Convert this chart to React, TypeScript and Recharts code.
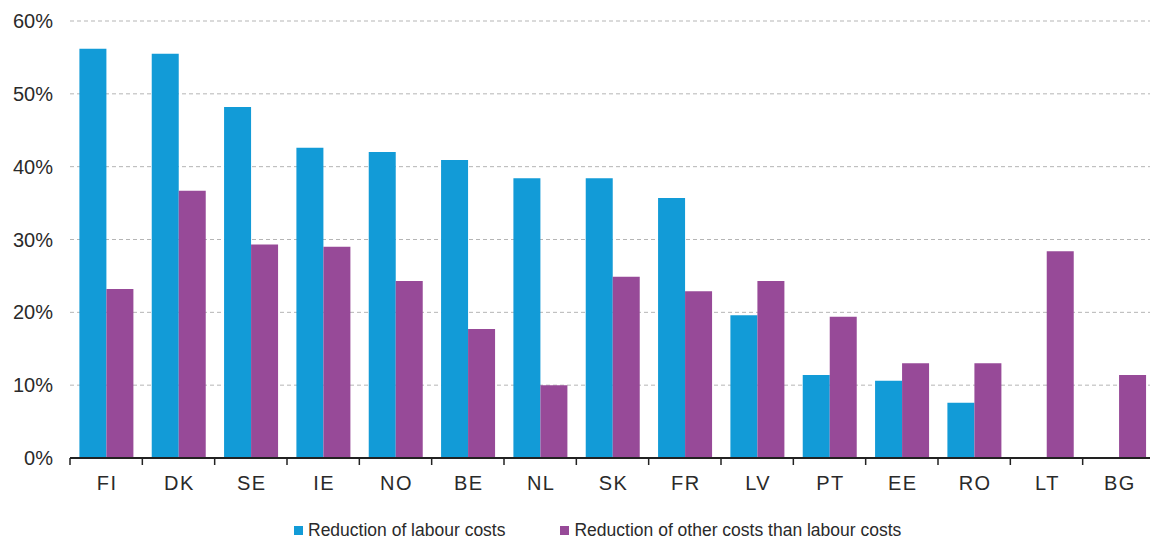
import { Bar, BarChart, CartesianGrid, Legend, XAxis, YAxis } from 'recharts';

const COUNTRIES = ['FI', 'DK', 'SE', 'IE', 'NO', 'BE', 'NL', 'SK', 'FR', 'LV', 'PT', 'EE', 'RO', 'LT', 'BG'];
const LABOUR = [56.2, 55.5, 48.2, 42.6, 42.0, 40.9, 38.4, 38.4, 35.7, 19.6, 11.4, 10.6, 7.6, 0, 0];
const OTHER = [23.2, 36.7, 29.3, 29.0, 24.3, 17.7, 10.0, 24.9, 22.9, 24.3, 19.4, 13.0, 13.0, 28.4, 11.4];
const Y_TICKS = [0, 10, 20, 30, 40, 50, 60];

const SERIES_NAMES = ['Reduction of labour costs', 'Reduction of other costs than labour costs'];
const BLUE = '#129BD7';
const PURPLE = '#974A98';
const FONT = "'Liberation Sans', Arial, sans-serif";

const data = COUNTRIES.map((c, i) => ({ country: c, labour: LABOUR[i], other: OTHER[i] }));

const CHART_W = 1160;
const PLOT_LEFT = 70;
const MARGIN_RIGHT = 5;
const BAND = (CHART_W - PLOT_LEFT - MARGIN_RIGHT) / COUNTRIES.length;

function CountryTick(props: any) {
  const { x, y, payload, index } = props;
  const left = x - BAND / 2;
  return (
    <g>
      <line x1={left} y1={y - 8} x2={left} y2={y - 1} stroke="#222" strokeWidth={1.5} />
      {index === COUNTRIES.length - 1 && (
        <line x1={left + BAND} y1={y - 8} x2={left + BAND} y2={y - 1} stroke="#222" strokeWidth={1.5} />
      )}
      <text
        x={x + 1}
        y={y + 24}
        textAnchor="middle"
        fill="#2a2a2a"
        fontSize={20}
        letterSpacing={1.5}
        fontFamily={FONT}
      >
        {payload.value}
      </text>
    </g>
  );
}

function LegendContent() {
  const colors = [BLUE, PURPLE];
  return (
    <div style={{ display: 'flex', paddingLeft: 294, paddingTop: 20, gap: 55 }}>
      {SERIES_NAMES.map((name, i) => (
        <div key={name} style={{ display: 'flex', alignItems: 'center' }}>
          <span style={{ width: 9, height: 9, background: colors[i], display: 'inline-block', marginRight: 5 }} />
          <span style={{ fontSize: 17.5, color: '#2a2a2a', fontFamily: FONT }}>{name}</span>
        </div>
      ))}
    </div>
  );
}

export default function App() {
  return (
    <div style={{ position: 'absolute', left: 0, top: 0, width: 1150, height: 542, overflow: 'hidden', background: '#fff' }}>
      <BarChart
        width={CHART_W}
        height={542}
        data={data}
        margin={{ top: 21, right: MARGIN_RIGHT, bottom: 0, left: 0 }}
        barCategoryGap="13%"
        barGap={0}
      >
        <CartesianGrid vertical={false} stroke="#b5b5b5" strokeDasharray="4 3" />
        <XAxis
          dataKey="country"
          height={42}
          axisLine={{ stroke: '#222', strokeWidth: 2 }}
          tickLine={false}
          tick={<CountryTick />}
          interval={0}
        />
        <YAxis
          width={PLOT_LEFT}
          domain={[0, 60]}
          ticks={Y_TICKS}
          tickFormatter={(v) => `${v}%`}
          axisLine={false}
          tickLine={false}
          tickMargin={11}
          tick={{ fill: '#2a2a2a', fontSize: 20, fontFamily: FONT }}
        />
        <Legend verticalAlign="bottom" height={42} content={<LegendContent />} />
        <Bar dataKey="labour" name={SERIES_NAMES[0]} fill={BLUE} isAnimationActive={false} />
        <Bar dataKey="other" name={SERIES_NAMES[1]} fill={PURPLE} isAnimationActive={false} />
      </BarChart>
    </div>
  );
}
